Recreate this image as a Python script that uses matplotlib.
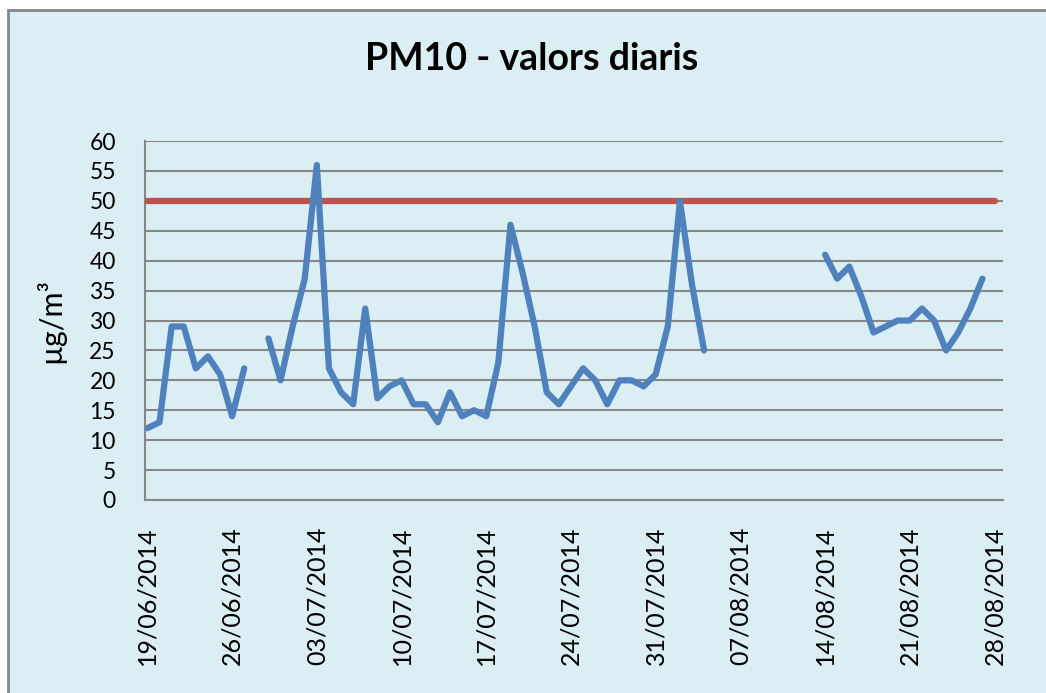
import numpy as np
import pandas as pd
import matplotlib
matplotlib.use("Agg")
import matplotlib.pyplot as plt
import matplotlib.dates as mdates
from matplotlib.patches import Rectangle

plt.rcParams['font.family'] = ['Lato', 'DejaVu Sans']

# daily PM10 values, 19/06/2014 .. 28/08/2014 (nan = no data)
dates = pd.date_range('2014-06-19', '2014-08-28', freq='D')
pm10 = [12, 13, 29, 29, 22, 24, 21, 14, 22, np.nan,
        27, 20, 29, 37, 56, 22, 18, 16, 32, 17,
        19, 20, 16, 16, 13, 18, 14, 15, 14, 23,
        46, 38, 29, 18, 16, 19, 22, 20, 16, 20,
        20, 19, 21, 29, 50, 36, 25, np.nan, np.nan, np.nan,
        np.nan, np.nan, np.nan, np.nan, np.nan, np.nan, 41, 37, 39, 34,
        28, 29, 30, 30, 32, 30, 25, 28, 32, 37,
        np.nan]
limit = [50] * len(dates)

bg = '#DAEEF3'
W, H = 1046, 693
fig = plt.figure(figsize=(W / 100, H / 100), dpi=100, facecolor='white')
fig.patches.append(Rectangle((8 / W, -0.05), 1.1, (H - 10) / H + 0.05,
                             transform=fig.transFigure, facecolor=bg,
                             edgecolor='#858585', lw=2, zorder=-5))

ax = fig.add_axes([145 / W, 1 - 500 / H, (1003 - 145) / W, (500 - 141) / H])
ax.set_facecolor(bg)

ax.plot(dates, limit, color='#C0504D', lw=4.5, solid_capstyle='round', zorder=3)
ax.plot(dates, pm10, color='#4F81BD', lw=4.5, solid_capstyle='round',
        solid_joinstyle='round', zorder=4)

ax.set_ylim(0, 60)
ax.set_yticks(range(0, 61, 5))
x0 = mdates.date2num(dates[0])
ax.set_xlim(x0 - 0.2, x0 + 70.7)
ax.set_xticks(dates[::7])
ax.xaxis.set_major_formatter(mdates.DateFormatter('%d/%m/%Y'))

ax.grid(axis='y', color='#878787', lw=1.5, zorder=1)
for s in ['top', 'right']:
    ax.spines[s].set_visible(False)
ax.spines['left'].set_color('#878787')
ax.spines['bottom'].set_color('#878787')
ax.spines['left'].set_linewidth(1.5)
ax.spines['bottom'].set_linewidth(1.5)

ax.tick_params(axis='y', length=0, pad=21, labelsize=16.5)
ax.tick_params(axis='x', length=0, pad=19, labelsize=18, labelrotation=90)

fig.text(532 / W, 1 - 70 / H, 'PM10 - valors diaris', ha='center', va='baseline',
         fontsize=27, fontweight='bold')
fig.text(50 / W, 1 - 321 / H, 'µg/m³', rotation=90, ha='center', va='center',
         fontsize=22)

fig.savefig('out.png', dpi=100, facecolor='white')
